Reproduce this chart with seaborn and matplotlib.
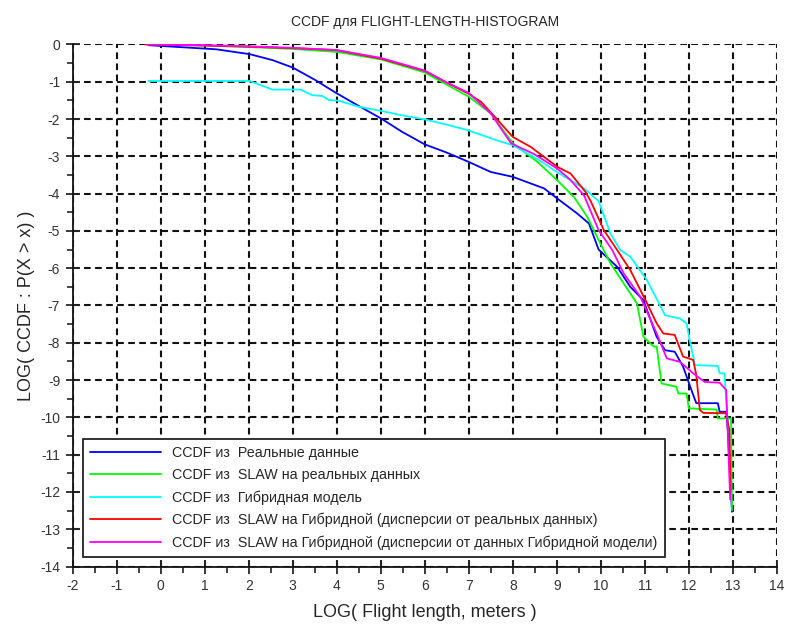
import matplotlib
matplotlib.use("Agg")
import pandas as pd
import seaborn as sns
import matplotlib.pyplot as plt
from matplotlib.ticker import MultipleLocator

# Values
real_x = [-0.28, 1.26, 2.02, 2.54, 3.0, 3.52, 3.97, 4.5, 5.0, 5.48, 6.0, 6.5, 7.0, 7.5, 8.0,
          8.71, 9.01, 9.46, 9.73, 9.95, 10.37, 10.67, 10.97, 11.27, 11.46, 11.68, 11.87, 12.06,
          12.17, 12.66, 12.7, 12.85, 12.89, 12.98]
real_y = [-0.02, -0.13, -0.26, -0.42, -0.62, -0.96, -1.29, -1.65, -1.98, -2.34, -2.68, -2.9,
          -3.15, -3.42, -3.55, -3.86, -4.13, -4.53, -4.8, -5.5, -5.96, -6.5, -6.86, -7.84, -8.2,
          -8.24, -8.64, -9.27, -9.62, -9.62, -9.85, -9.85, -10.4, -12.53]

slaw_real_x = [-0.28, 1, 2, 3, 4, 5, 6, 6.5, 7, 7.5, 8.0, 8.56, 9.01, 9.39, 9.69, 9.99, 10.22,
               10.52, 10.82, 10.97, 11.2, 11.27, 11.38, 11.72, 11.76, 11.95, 12.0, 12.63, 12.66,
               12.96, 12.98]
slaw_real_y = [0, -0.03, -0.07, -0.12, -0.2, -0.4, -0.75, -1.08, -1.4, -1.85, -2.65, -3.15,
               -3.64, -4.09, -4.62, -5.34, -5.87, -6.41, -6.94, -7.84, -8.1, -8.1, -9.09, -9.18,
               -9.36, -9.36, -9.76, -9.79, -10.03, -10.03, -12.49]

hybrid_x = [-0.28, 2.02, 2.54, 3.18, 3.44, 3.67, 3.82, 4.05, 4.5, 5.0, 5.48, 6.0, 6.5, 6.98,
            7.66, 8.0, 8.26, 8.6, 9.0, 9.62, 9.95, 10.22, 10.44, 10.67, 11.05, 11.46, 11.8,
            11.95, 12.02, 12.14, 12.66, 12.7, 12.81, 12.85, 12.9]
hybrid_y = [-0.98, -0.98, -1.21, -1.21, -1.36, -1.38, -1.49, -1.51, -1.67, -1.78, -1.9, -2.01,
            -2.15, -2.3, -2.58, -2.7, -2.88, -3.1, -3.42, -3.86, -4.2, -5.07, -5.51, -5.69,
            -6.32, -7.26, -7.35, -7.48, -7.93, -8.6, -8.62, -8.82, -8.82, -9.54, -10.4]

slaw_hyb_real_x = [-0.35, 1, 2, 3, 3.97, 5.0, 6.0, 6.54, 6.98, 7.28, 7.66, 8.0, 8.41, 9.01, 9.31,
                   9.65, 9.77, 10.07, 10.37, 10.67, 11.05, 11.27, 11.42, 11.68, 11.87, 12.1,
                   12.17, 12.25, 12.33, 12.85, 12.92, 12.95]
slaw_hyb_real_y = [0, -0.03, -0.06, -0.1, -0.15, -0.38, -0.71, -1.05, -1.31, -1.54, -2.03, -2.48,
                   -2.75, -3.28, -3.46, -3.95, -4.2, -4.98, -5.51, -6.05, -6.94, -7.48, -7.75,
                   -7.79, -8.37, -8.46, -8.87, -9.8, -9.88, -9.89, -10.34, -12.0]

slaw_hyb_hyb_x = [-0.3, 1, 2, 3, 4, 5, 6, 6.5, 7, 7.5, 7.96, 8.5, 9.01, 9.3, 9.62, 9.95, 10.26,
                  10.52, 10.9, 11.27, 11.5, 11.8, 12.1, 12.36, 12.7, 12.85, 12.94]
slaw_hyb_hyb_y = [0, -0.02, -0.05, -0.09, -0.15, -0.36, -0.7, -1.02, -1.3, -1.85, -2.65, -2.95,
                  -3.33, -3.62, -4.05, -4.98, -5.51, -6.14, -6.77, -7.75, -8.42, -8.51, -8.82,
                  -9.05, -9.07, -9.27, -12.2]

labels = ["CCDF из  Реальные данные",
          "CCDF из  SLAW на реальных данных",
          "CCDF из  Гибридная модель",
          "CCDF из  SLAW на Гибридной (дисперсии от реальных данных)",
          "CCDF из  SLAW на Гибридной (дисперсии от данных Гибридной модели)"]
colors = ["#0000ff", "#00ff00", "#00ffff", "#ff0000", "#ff00ff"]

series = [(real_x, real_y), (slaw_real_x, slaw_real_y), (hybrid_x, hybrid_y),
          (slaw_hyb_real_x, slaw_hyb_real_y), (slaw_hyb_hyb_x, slaw_hyb_hyb_y)]

sns.set_style("ticks")
plt.rcParams['font.family'] = ['Liberation Sans', 'DejaVu Sans']
plt.rcParams['axes.unicode_minus'] = False

fig = plt.figure(figsize=(7.85, 6.26), dpi=100)
ax = fig.add_axes([0.0926, 0.095, 0.897, 0.834])

for (xs, ys), lab, col in zip(series, labels, colors):
    d = pd.DataFrame({"x": xs, "y": ys})
    sns.lineplot(data=d, x="x", y="y", color=col, label=lab, sort=False,
                 estimator=None, linewidth=1.3, ax=ax, zorder=3)

ax.set_xlim(-2, 14)
ax.set_ylim(-14, 0)
ax.xaxis.set_major_locator(MultipleLocator(1))
ax.yaxis.set_major_locator(MultipleLocator(1))
ax.xaxis.set_minor_locator(MultipleLocator(0.5))
ax.yaxis.set_minor_locator(MultipleLocator(0.5))
ax.grid(True, which="major", color="#111111", linestyle=(0, (3.2, 2.1)), linewidth=1.5, zorder=1)
ax.set_axisbelow(True)
ax.tick_params(which="major", direction="inout", length=10, width=1.3, labelsize=10,
               labelcolor="#333333", pad=4)
ax.tick_params(which="minor", direction="out", length=4, width=1.2)
for s in ["top", "right"]:
    ax.spines[s].set_visible(False)
for s in ["left", "bottom"]:
    ax.spines[s].set_linewidth(1.3)
    ax.spines[s].set_color("#111111")

ax.set_title("CCDF для FLIGHT-LENGTH-HISTOGRAM", fontsize=10, pad=13)
ax.set_xlabel("LOG( Flight length, meters )", fontsize=13, labelpad=8)
ax.set_ylabel("LOG( CCDF : P(X > x) )", fontsize=13, labelpad=4)

leg = ax.legend(loc="upper left", bbox_to_anchor=(0.0145, 0.244), borderaxespad=0,
                fontsize=10.3, handlelength=4.96, labelspacing=0.56, fancybox=False,
                framealpha=1, edgecolor="#222222", borderpad=0.5, handletextpad=0.77)
leg.get_frame().set_linewidth(1.3)
leg.set_zorder(5)

fig.savefig("out.png", dpi=100)
